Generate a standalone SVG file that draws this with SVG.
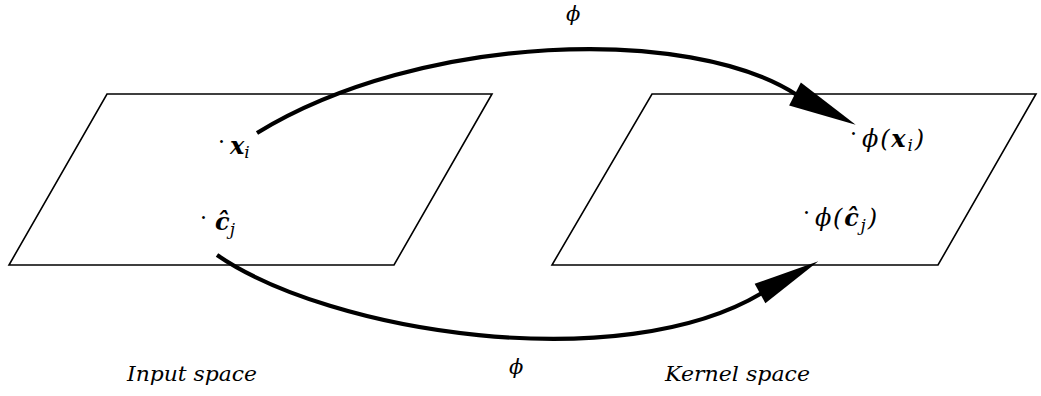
<svg xmlns="http://www.w3.org/2000/svg" width="1041" height="396" viewBox="0 0 1041 396">
<style>
.plane{fill:none;stroke:#000;stroke-width:1.6}
.arc{fill:none;stroke:#000;stroke-width:4.2;stroke-linecap:butt}
.head{fill:#000}
.m{font-family:"DejaVu Serif","Liberation Serif",serif;font-style:italic;font-size:24px;fill:#000}
.phi{font-family:"DejaVu Serif","Liberation Serif",serif;font-style:italic;font-size:21px;fill:#000}
.b{font-weight:bold}
.sub{font-size:17px}
.dot{font-family:"DejaVu Serif",serif;font-size:22px;fill:#000}
.lbl{font-family:"DejaVu Serif","Liberation Serif",serif;font-style:italic;font-size:21px;fill:#000}
</style>
<defs>
<path id="arrowhead" class="head" d="M0,-13 L68,0 L0,13 Z"/>
</defs>
<rect width="1041" height="396" fill="#fff"/>
<g id="input-space">
<polygon class="plane" points="107,94 492,94 394,265 9,265"/>
<text class="lbl" x="127" y="381" textLength="130" lengthAdjust="spacingAndGlyphs">Input space</text>
</g>
<g id="kernel-space">
<polygon class="plane" points="652,94 1036,94 938,265 552,265"/>
<text class="lbl" x="665" y="381" textLength="145" lengthAdjust="spacingAndGlyphs">Kernel space</text>
</g>
<g id="node-xi">
<text class="dot" x="218" y="149">·</text>
<text class="m b" x="230" y="154">x<tspan class="sub" font-weight="normal" dy="4">i</tspan></text>
</g>
<g id="node-cj">
<text class="dot" x="200" y="225">·</text>
<text class="m b" x="215" y="230">ĉ<tspan class="sub" font-weight="normal" dy="5">j</tspan></text>
</g>
<g id="node-phixi">
<text class="dot" x="850" y="141">·</text>
<text class="m" x="862" y="147" textLength="62" lengthAdjust="spacing">ϕ(<tspan class="b">x</tspan><tspan class="sub" dy="4">i</tspan><tspan dy="-4">)</tspan></text>
</g>
<g id="node-phicj">
<text class="dot" x="803" y="220">·</text>
<text class="m" x="815" y="226" textLength="62" lengthAdjust="spacing">ϕ(<tspan class="b">ĉ</tspan><tspan class="sub" dy="5">j</tspan><tspan dy="-5">)</tspan></text>
</g>
<g id="connectors">
<path class="arc" d="M257,133 C420,33 690,25 797,95"/>
<use href="#arrowhead" transform="translate(795,94) rotate(26.8)"/>
<text class="phi" x="566" y="21">ϕ</text>
<path class="arc" d="M217,255 C330,333 620,378 762,293"/>
<use href="#arrowhead" transform="translate(760,293.5) rotate(-28.9) scale(0.98,0.85)"/>
<text class="phi" x="509" y="374">ϕ</text>
</g>
</svg>
